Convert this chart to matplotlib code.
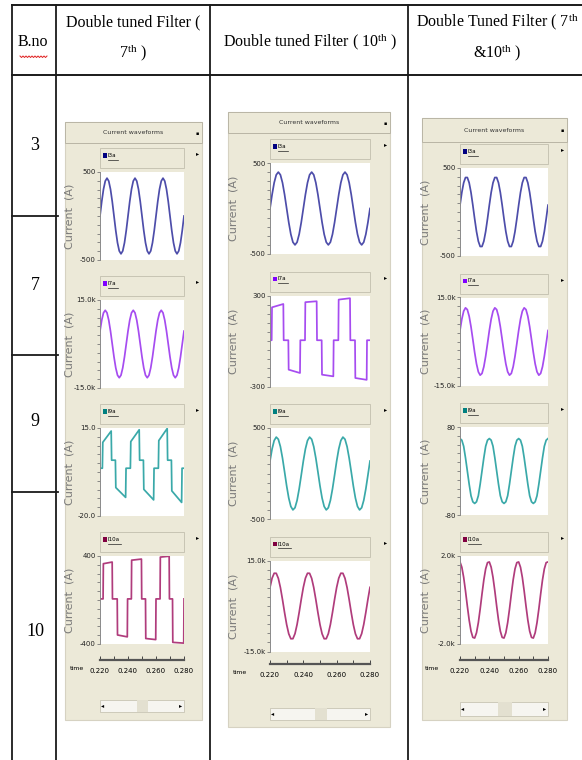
import numpy as np
import matplotlib
matplotlib.use('Agg')
from matplotlib import pyplot as plt
from matplotlib.patches import Rectangle
from matplotlib.ticker import FixedLocator

plt.rcParams['mathtext.fontset'] = 'custom'
plt.rcParams['mathtext.rm'] = 'Liberation Serif'
plt.rcParams['mathtext.it'] = 'Liberation Serif:italic'

W, H = 582, 760

# ---------------- data ----------------
row_labels = ['3', '7', '9', '10']
trace_names = ['I3a', 'I7a', 'I9a', 'I10a']
t_start = 0.220          # s, left edge of every scope window
t_ticks = [0.220, 0.240, 0.260, 0.280]

c1_i3 = [0, 165, 304, 397, 430, 397, 304, 165, 0, -165, -304, -397, -430, -397, -304, -165]
c1_i7 = [4400, 8130, 10630, 11500, 10630, 8130, 4400, 0, -4400, -8130, -10630, -11500, -10630, -8130, -4400, 0]
c2_i3 = [0, 153, 283, 370, 400, 370, 283, 153, 0, -153, -283, -370, -400, -370, -283, -153]
c2_i9 = [137, 270, 362, 400, 376, 295, 169, 18, -137, -270, -362, -400, -376, -295, -169, -18]
c2_i10 = [6150, 9170, 10800, 10780, 9120, 6070, 2100, -2190, -6150, -9170, -10800, -10780, -9120, -6070, -2100, 2190]
c3_i3 = [78, 222, 332, 392, 392, 332, 222, 78, -78, -222, -332, -392, -392, -332, -222, -78]
c3_i7 = [3750, 7620, 10340, 11480, 10880, 8610, 5040, 700, -3750, -7620, -10340, -11480, -10880, -8610, -5040, -700]
c3_i9 = [59, 56, 45, 24, 0, -24, -45, -56, -59, -56, -45, -24, 0, 24, 45, 56]
c3_i10 = [1730, 1490, 1030, 410, -275, -915, -1415, -1700, -1730, -1490, -1030, -410, 275, 915, 1415, 1700]

# stepped waveforms: breakpoints (ms after 0.220 s) and current (A)
s1_i9_ms = [0, 1.7, 2.0, 8.0, 8.3, 11.0, 11.3, 18.3, 18.6, 21.7, 22.0, 28.0, 28.3, 31.0, 31.3,
            38.3, 38.6, 41.7, 42.0, 48.0, 48.3, 51.0, 51.3, 58.3, 58.6, 60]
s1_i9_val = [-1, -1, 9.3, 13.8, 2.2, 2.2, -8.7, -12.6, -1, -1, 9.6, 14.3, 2.2, 2.2, -9.4,
             -13.6, -1, -1, 10.0, 14.8, 2.2, 2.2, -10.0, -14.6, -1, -1]
s1_i10_ms = [0, 2.2, 2.4, 8.7, 8.9, 12.3, 12.5, 19.5, 19.7, 22.4, 22.6, 29.6, 29.8, 32.5, 32.7,
             39.8, 40.0, 42.9, 43.1, 49.4, 49.6, 51.8, 52.0, 59.8, 60]
s1_i10_val = [10, 10, 330, 345, 10, 10, -318, -335, 10, 10, 362, 372, 10, 10, -350,
              -360, 10, 10, 390, 398, 10, 10, -385, -392, 10]
s2_i7_ms = [0, 1.0, 1.2, 8.0, 8.2, 11.0, 11.2, 18.0, 18.2, 21.0, 21.2, 28.0, 28.2, 31.0, 31.2,
            38.0, 38.2, 41.0, 41.2, 48.0, 48.2, 51.0, 51.2, 58.0, 58.2, 60]
s2_i7_val = [5, 5, 222, 244, 5, 5, -189, -211, 5, 5, 256, 262, 5, 5, -222,
             -233, 5, 5, 273, 282, 5, 5, -244, -256, 5, 5]

ylims = [[(-500, 500), (-15000, 15000), (-20, 15), (-400, 400)],
         [(-500, 500), (-300, 300), (-500, 500), (-15000, 15000)],
         [(-500, 500), (-15000, 15000), (-80, 80), (-2000, 2000)]]
ylabels_txt = [[('500', '-500'), ('15.0k', '-15.0k'), ('15.0', '-20.0'), ('400', '-400')],
               [('500', '-500'), ('300', '-300'), ('500', '-500'), ('15.0k', '-15.0k')],
               [('500', '-500'), ('15.0k', '-15.0k'), ('80', '-80'), ('2.0k', '-2.0k')]]

line_colors = ['#4d4daa', '#a64cf0', '#3aa9a9', '#b03c7c']
key_colors = ['#000080', '#8000ff', '#008080', '#800040']


def cycle_trace(cyc):
    v = np.append(np.tile(cyc, 3), cyc[0])
    t = t_start + np.arange(len(v)) * 0.00125
    return t, v


def step_trace(ms, val):
    return t_start + np.array(ms) / 1000.0, np.array(val)


traces = [[cycle_trace(c1_i3), cycle_trace(c1_i7), step_trace(s1_i9_ms, s1_i9_val), step_trace(s1_i10_ms, s1_i10_val)],
          [cycle_trace(c2_i3), step_trace(s2_i7_ms, s2_i7_val), cycle_trace(c2_i9), cycle_trace(c2_i10)],
          [cycle_trace(c3_i3), cycle_trace(c3_i7), cycle_trace(c3_i9), cycle_trace(c3_i10)]]

# ---------------- layout (pixels, y down) ----------------
geo = [
    dict(panel=(65, 122, 202, 720), title_h=21, px=(100, 184), tops=[172, 300, 428, 556], ph=88,
         lab_x=69, axis_y=660, scroll=(700, 712), thumb=(137, 148), time_x=77),
    dict(panel=(228, 112, 390, 727), title_h=21, px=(270, 370), tops=[163, 295.5, 428, 560.5], ph=91,
         lab_x=233, axis_y=664, scroll=(708, 720), thumb=(315, 327), time_x=240),
    dict(panel=(422, 118, 567, 720), title_h=24, px=(460, 548), tops=[168, 297.5, 427, 556], ph=88,
         lab_x=425, axis_y=660, scroll=(702, 716), thumb=(498, 512), time_x=432),
]

fig = plt.figure(figsize=(W / 100, H / 100), dpi=100)
bg = fig.add_axes([0, 0, 1, 1])
bg.set_xlim(0, W)
bg.set_ylim(H, 0)
bg.axis('off')


def px_axes(x0, y0, x1, y1):
    return fig.add_axes([x0 / W, 1 - y1 / H, (x1 - x0) / W, (y1 - y0) / H])


# table grid
lc = '#1a1a1a'
bg.plot([12, 582], [5, 5], color=lc, lw=1.4)
bg.plot([12, 582], [75, 75], color=lc, lw=1.4)
for x in [12, 56, 210, 408]:
    bg.plot([x, x], [5, 760], color=lc, lw=1.3)
for y in [216, 355, 492]:
    bg.plot([12, 58], [y, y], color=lc, lw=1.3)

serif = 'Liberation Serif'
bg.text(33, 42, 'B.no', fontsize=11.5, family=serif, ha='center', va='center')
zx = np.arange(20, 48.1, 1.5)
bg.plot(zx, 56 + (np.arange(len(zx)) % 2) * 1.5, color='#e02020', lw=0.7)
bg.text(133, 22, 'Double tuned Filter (', fontsize=11.5, family=serif, ha='center', va='center')
bg.text(133, 53, r'$7^{\mathrm{th}}$ )', fontsize=11.5, family=serif, ha='center', va='center')
bg.text(310, 42, r'Double tuned Filter ( $10^{\mathrm{th}}$ )', fontsize=11.5, family=serif,
        ha='center', va='center')
bg.text(497, 22, r'Double Tuned Filter ( $7^{\mathrm{th}}$', fontsize=11.5, family=serif,
        ha='center', va='center')
bg.text(497, 53, r'&$10^{\mathrm{th}}$ )', fontsize=11.5, family=serif, ha='center', va='center')
for lab, y in zip(row_labels, [145, 285, 422, 632]):
    bg.text(35, y, lab, fontsize=13, family=serif, ha='center', va='center')

beige = '#ece9d8'
for c, g in enumerate(geo):
    x0, y0, x1, y1 = g['panel']
    bg.add_patch(Rectangle((x0, y0), x1 - x0, y1 - y0, fc=beige, ec='#d6d2c2', lw=0.8))
    bg.add_patch(Rectangle((x0, y0), x1 - x0, g['title_h'], fc=beige, ec='#b9b5a5', lw=0.7))
    bg.text((x0 + x1) / 2, y0 + g['title_h'] / 2, 'Current waveforms', fontsize=4.5,
            ha='center', va='center', color='#333333')
    bg.text(x1 - 5, y0 + g['title_h'] / 2 + 1, '\u25aa', fontsize=3.5, ha='center', va='center')
    px0, px1 = g['px']
    for r in range(4):
        top = g['tops'][r]
        ph = g['ph']
        # legend strip
        bg.add_patch(Rectangle((px0, top - 24), px1 - px0, 20, fc=beige, ec='#c2bead', lw=0.6))
        bg.add_patch(Rectangle((px0 + 3, top - 19), 3.5, 4.5, fc=key_colors[r], ec='none'))
        bg.text(px0 + 8, top - 16.5, trace_names[r], fontsize=4, ha='left', va='center')
        bg.plot([px0 + 8, px0 + 8 + 3.2 * len(trace_names[r])], [top - 12.5, top - 12.5],
                color='#222222', lw=0.5)
        bg.text(x1 - 4, top - 18, '\u25b8', fontsize=4.5, ha='center', va='center')
        bg.text(g['lab_x'], top + ph / 2, 'Current  (A)', rotation=90, fontsize=8,
                color='#7a7a7a', ha='center', va='center')

        ax = px_axes(px0, top, px1, top + ph)
        t, v = traces[c][r]
        ax.plot(t, v, color=line_colors[r], lw=1.25)
        lo, hi = ylims[c][r]
        ax.set_xlim(0.220, 0.280)
        ax.set_ylim(lo, hi)
        ax.set_facecolor('white')
        for s in ['top', 'right', 'bottom']:
            ax.spines[s].set_visible(False)
        ax.spines['left'].set_color('#8a8a8a')
        ax.spines['left'].set_linewidth(0.7)
        ax.set_xticks([])
        ax.set_yticks([lo, hi])
        ax.set_yticklabels([ylabels_txt[c][r][1], ylabels_txt[c][r][0]])
        ax.yaxis.set_minor_locator(FixedLocator(np.linspace(lo, hi, 11)))
        ax.tick_params(axis='y', which='both', length=2, width=0.6, color='#777777',
                       labelsize=5, pad=1, labelcolor='#222222')

    # time axis
    ay = g['axis_y']
    tax = px_axes(px0, ay - 1, px1, ay)
    tax.set_xlim(0.220, 0.280)
    tax.set_facecolor('none')
    for s in ['top', 'right', 'left']:
        tax.spines[s].set_visible(False)
    tax.spines['bottom'].set_color('#555555')
    tax.spines['bottom'].set_linewidth(1.6)
    tax.set_yticks([])
    tax.set_xticks(t_ticks)
    tax.set_xticklabels(['%.3f' % x for x in t_ticks])
    tax.xaxis.set_minor_locator(FixedLocator([0.23, 0.25, 0.27]))
    tax.tick_params(axis='x', which='both', direction='in', length=3, width=0.7,
                    color='#444444', labelsize=5, pad=6)
    bg.text(g['time_x'], ay + 9, 'time', fontsize=4.5, ha='center', va='center')

    # scroll bar
    sy0, sy1 = g['scroll']
    bg.add_patch(Rectangle((px0, sy0), px1 - px0, sy1 - sy0, fc='#f6f5f0', ec='#c8c4b4', lw=0.6))
    tx0, tx1 = g['thumb']
    bg.add_patch(Rectangle((tx0, sy0), tx1 - tx0, sy1 - sy0, fc='#e3e0d0', ec='none'))
    bg.text(px0 + 3, (sy0 + sy1) / 2, '\u25c2', fontsize=4.5, ha='center', va='center')
    bg.text(px1 - 3, (sy0 + sy1) / 2, '\u25b8', fontsize=4.5, ha='center', va='center')

fig.savefig('out.png', dpi=100)
